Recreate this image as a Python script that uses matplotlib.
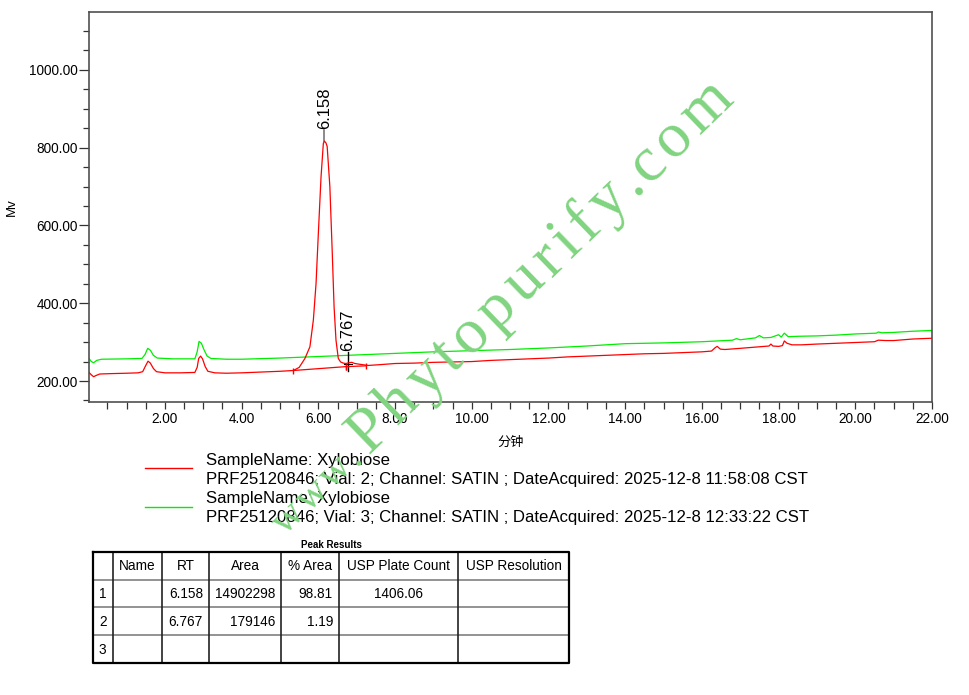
import numpy as np
import matplotlib
matplotlib.use("Agg")
import matplotlib.pyplot as plt
from matplotlib.font_manager import FontProperties
from matplotlib.ticker import MultipleLocator, FormatStrFormatter

plt.rcParams['font.family'] = ['Liberation Sans', 'Noto Sans CJK SC', 'DejaVu Sans']

# chromatogram traces (minutes, mV)
red_t = [0.02, 0.08, 0.14, 0.20, 0.30, 0.6, 1.0, 1.30, 1.42, 1.50, 1.56, 1.62, 1.70, 1.78,
         2.0, 2.4, 2.78, 2.84, 2.88, 2.93, 2.98, 3.05, 3.12, 3.3, 3.6, 4.0, 4.5, 5.0, 5.35,
         5.5, 5.65, 5.78, 5.87, 5.94, 6.00, 6.07, 6.13, 6.158, 6.20, 6.23, 6.30, 6.36, 6.41,
         6.46, 6.52, 6.58, 6.65, 6.72, 6.80, 6.87, 6.95, 7.08, 7.3, 7.6, 8.0, 8.5, 9.0, 9.5,
         10.0, 10.5, 11.0, 11.5, 12.0, 12.5, 13.0, 13.5, 14.0, 14.5, 15.0, 15.5, 16.0, 16.25,
         16.35, 16.4, 16.48, 16.6, 17.0, 17.5, 17.75, 17.8, 17.85, 18.0, 18.1, 18.15, 18.22,
         18.35, 18.6, 19.0, 19.5, 20.0, 20.5, 20.6, 20.8, 21.0, 21.5, 22.0]
red_v = [222, 216, 211, 214, 218, 219, 220, 221, 224, 240, 251, 246, 232, 224,
         221, 221, 222, 235, 258, 264, 257, 237, 225, 221, 220, 221, 223, 225, 227,
         235, 258, 288, 357, 451, 580, 725, 811, 817, 812, 803, 700, 537, 391,
         305, 258, 249, 246, 245, 247, 248, 245, 243, 240, 242, 245, 246, 248, 249,
         250, 253, 255, 257, 259, 262, 264, 266, 268, 270, 271, 273, 275, 277,
         286, 289, 282, 281, 284, 288, 290, 295, 290, 289, 291, 303, 297,
         293, 293, 295, 297, 299, 301, 305, 304, 304, 308, 310]

green_t = [0.02, 0.08, 0.14, 0.22, 0.35, 1.0, 1.40, 1.48, 1.55, 1.62, 1.70, 1.80, 2.2, 2.78,
           2.84, 2.89, 2.95, 3.02, 3.10, 3.2, 3.6, 4.0, 5.0, 6.0, 7.0, 8.0, 9.0, 10.0, 11.0,
           12.0, 13.0, 14.0, 15.0, 16.0, 16.8, 16.9, 17.0, 17.4, 17.5, 17.6, 17.8, 18.0, 18.07,
           18.15, 18.25, 18.5, 19.0, 19.5, 20.0, 20.55, 20.6, 20.7, 21.0, 21.5, 22.0]
green_v = [258, 250, 247, 253, 256, 257, 258, 268, 284, 279, 266, 259, 257, 257,
           275, 302, 297, 280, 264, 258, 256, 256, 259, 263, 267, 271, 275, 278, 281,
           285, 290, 296, 298, 301, 305, 309, 306, 311, 317, 311, 312, 319, 313,
           323, 314, 315, 316, 318, 321, 323, 326, 324, 325, 328, 330]

# integration baseline of peak 1 and 2
base1_t = [5.35, 6.72]
base1_v = [227, 237]
base2_t = [6.72, 7.25]
base2_v = [237, 239]

peak_rt = [6.158, 6.767]
peak_top = [817, 247]
peak_labels = ["6.158", "6.767"]

legend_lines = ["SampleName: Xylobiose",
                "PRF25120846; Vial: 2; Channel: SATIN ; DateAcquired: 2025-12-8 11:58:08 CST",
                "SampleName: Xylobiose",
                "PRF25120846; Vial: 3; Channel: SATIN ; DateAcquired: 2025-12-8 12:33:22 CST"]

table_header = ["", "Name", "RT", "Area", "% Area", "USP Plate Count", "USP Resolution"]
table_rows = [["1", "", "6.158", "14902298", "98.81", "1406.06", ""],
              ["2", "", "6.767", "179146", "1.19", "", ""],
              ["3", "", "", "", "", "", ""]]

W, H = 970, 695
fig = plt.figure(figsize=(W / 100, H / 100), dpi=100)
fig.patch.set_facecolor('white')

ax = fig.add_axes([89 / W, 1 - 402 / H, (932 - 89) / W, (402 - 12) / H])
ax.plot(green_t, green_v, color='#00ee00', lw=0.9, zorder=2)
ax.plot(red_t, red_v, color='#ff0000', lw=0.9, zorder=3)
ax.plot(base1_t, base1_v, color='#ff0000', lw=0.9, marker='|', ms=4, mew=1, zorder=3)
ax.plot(base2_t, base2_v, color='#ff0000', lw=0.9, marker='|', ms=4, mew=1, zorder=3)

# peak markers and labels
ax.plot([peak_rt[0], peak_rt[0]], [peak_top[0], peak_top[0] + 28], color='#777777', lw=1.2)
ax.text(peak_rt[0], peak_top[0] + 32, peak_labels[0], rotation=90, ha='center', va='bottom',
        fontsize=12)
ax.plot([peak_rt[1], peak_rt[1]], [peak_top[1] - 22, peak_top[1] + 27], color='black', lw=1.0)
ax.plot([peak_rt[1] - 0.1, peak_rt[1] + 0.1], [peak_top[1] - 4, peak_top[1] - 4], color='black', lw=0.8)
ax.text(peak_rt[1], peak_top[1] + 31, peak_labels[1], rotation=90, ha='center', va='bottom',
        fontsize=12)

ax.set_xlim(0.02, 22.0)
ax.set_ylim(146, 1149)
ax.xaxis.set_minor_locator(MultipleLocator(0.5))
ax.yaxis.set_minor_locator(MultipleLocator(50))
ax.xaxis.set_major_formatter(FormatStrFormatter('%.2f'))
ax.yaxis.set_major_formatter(FormatStrFormatter('%.2f'))
ax.set_xticks([2, 4, 6, 8, 10, 12, 14, 16, 18, 20, 22])
ax.set_yticks([200, 400, 600, 800, 1000])
ax.tick_params(axis='x', which='both', direction='out', length=5, width=0.9, color='#333333',
               labelsize=9.8, pad=2)
ax.tick_params(axis='y', which='major', direction='out', length=7, width=0.9, color='#333333',
               labelsize=9.8, pad=1)
ax.tick_params(axis='y', which='minor', direction='out', length=4, width=0.9, color='#333333')
for s in ax.spines.values():
    s.set_color('#505050')
    s.set_linewidth(1.2)
ax.set_xlabel("分钟", fontsize=9.5, family=['Noto Sans CJK SC', 'DejaVu Sans'])
ax.set_ylabel("Mv", fontsize=9.5)
ax.xaxis.set_label_coords(0.5, -0.087)
ax.yaxis.set_label_coords(-0.084, 0.5)

# overlay in pixel coordinates for legend, table and watermark
ov = fig.add_axes([0, 0, 1, 1], zorder=5)
ov.set_xlim(0, W)
ov.set_ylim(H, 0)
ov.axis('off')
ov.patch.set_alpha(0)

# legend
ov.plot([145, 192], [468, 468], color='#ff0000', lw=1.0)
ov.plot([145, 192], [507, 507], color='#00ee00', lw=1.0)
for i, line in enumerate(legend_lines):
    ov.text(206, 460 + 19.2 * i, line, fontsize=12.1, va='center', ha='left')

# table
col_x = [93, 113, 162, 209, 281, 339, 458, 569]
row_y = [552, 580, 607, 635, 663]
ov.text((col_x[0] + col_x[-1]) / 2, 545, "Peak Results", fontsize=7, weight='bold',
        ha='center', va='center')
for y in row_y[1:-1]:
    ov.plot([col_x[0], col_x[-1]], [y, y], color='#8a8a8a', lw=1.3)
for x in col_x[1:-1]:
    ov.plot([x, x], [row_y[0], row_y[-1]], color='#222222', lw=1.2)
ov.plot([col_x[0], col_x[-1], col_x[-1], col_x[0], col_x[0]],
        [row_y[0], row_y[0], row_y[-1], row_y[-1], row_y[0]], color='black', lw=1.6)
for j, h in enumerate(table_header):
    ov.text((col_x[j] + col_x[j + 1]) / 2, (row_y[0] + row_y[1]) / 2 + 0.5, h,
            fontsize=9.8, ha='center', va='center')
for i, row in enumerate(table_rows):
    yc = (row_y[i + 1] + row_y[i + 2]) / 2 + 0.5
    for j, val in enumerate(row):
        if not val:
            continue
        if j == 0:
            ov.text(col_x[0] + 6, yc, val, fontsize=9.8, ha='left', va='center')
        elif j == 5:
            ov.text((col_x[j] + col_x[j + 1]) / 2, yc, val, fontsize=9.8, ha='center', va='center')
        else:
            ov.text(col_x[j + 1] - 6, yc, val, fontsize=9.8, ha='right', va='center')

# watermark, letter by letter along a slanted line
renderer = fig.canvas.get_renderer()
ang = np.deg2rad(44)
dx, dy = np.cos(ang), -np.sin(ang)
wm_color = '#80d480'


def put_word(word, x0, y0, size, track):
    fp = FontProperties(family='Liberation Serif', size=size)
    pos = 0.0
    for k, ch in enumerate(word):
        ov.text(x0 + dx * pos, y0 + dy * pos, ch, fontproperties=fp, color=wm_color,
                rotation=44, rotation_mode='anchor', ha='left', va='baseline', zorder=10)
        w, _, _ = renderer.get_text_width_height_descent(word[:k + 1], fp, ismath=False)
        w0, _, _ = renderer.get_text_width_height_descent(word[:k], fp, ismath=False) if k else (0, 0, 0)
        pos += (w - w0) + track
    return pos


x0, y0 = 368, 455
put_word("Phytopurify.com", x0, y0, 46, 6)
fpw = FontProperties(family='Liberation Serif', size=30)
ww, _, _ = renderer.get_text_width_height_descent("www.", fpw, ismath=False)
back = ww + 4 * 3 + 6
put_word("www.", x0 - dx * back, y0 - dy * back, 30, 3)

fig.savefig("out.png", dpi=100, facecolor='white')
